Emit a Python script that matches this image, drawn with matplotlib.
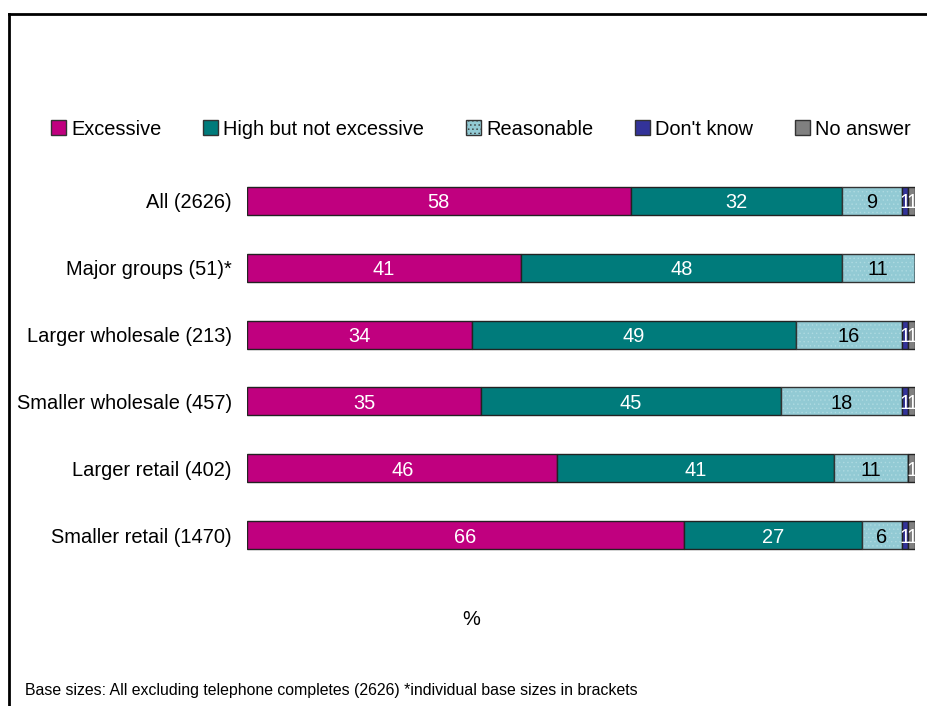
import numpy as np
import matplotlib
matplotlib.use("Agg")
import matplotlib.pyplot as plt
from matplotlib.lines import Line2D
from matplotlib.patches import Patch

plt.rcParams['font.family'] = ['Liberation Sans', 'DejaVu Sans']
plt.rcParams['hatch.linewidth'] = 0.5

# survey groups, top to bottom
groups = ["All (2626)", "Major groups (51)*", "Larger wholesale (213)",
          "Smaller wholesale (457)", "Larger retail (402)", "Smaller retail (1470)"]

excessive = [58, 41, 34, 35, 46, 66]
high_not_excessive = [32, 48, 49, 45, 41, 27]
reasonable = [9, 11, 16, 18, 11, 6]
dont_know = [1, 0, 1, 1, 0, 1]
no_answer = [1, 0, 1, 1, 1, 1]

series = ["Excessive", "High but not excessive", "Reasonable", "Don't know", "No answer"]
colors = ["#C0007F", "#007B7B", "#92CAD4", "#333399", "#808080"]
text_colors = ["white", "white", "black", "white", "white"]

fig = plt.figure(figsize=(9.27, 7.06), dpi=100)
ax = fig.add_axes([0.2665, 0.1948, 0.7206, 0.5679])

data = np.array([excessive, high_not_excessive, reasonable, dont_know, no_answer],
                dtype=float)
# 100% stacked: each row scaled to its own total
shares = data / data.sum(axis=0) * 100

y = np.arange(len(groups))
left = np.zeros(len(groups))
for name, vals, widths, col, tcol in zip(series, data, shares, colors, text_colors):
    if name == "Reasonable":
        # faint texture on the light bars
        ax.barh(y, widths, left=left, height=0.42, color=col, hatch="....",
                edgecolor="#AEDAE1", linewidth=0)
        ax.barh(y, widths, left=left, height=0.42, fill=False,
                edgecolor="#333333", linewidth=1)
    else:
        ax.barh(y, widths, left=left, height=0.42, color=col,
                edgecolor="#222222", linewidth=1)
    for yi, l, v, w in zip(y, left, vals, widths):
        if v > 0:
            ax.text(l + w / 2, yi + 0.03, f"{v:.0f}", ha="center", va="center",
                    color=tcol, fontsize=14.4)
    left += widths

ax.set_xlim(0, 100)
ax.set_ylim(len(groups) - 0.5, -0.5)
ax.set_yticks(y)
ax.set_yticklabels(groups, fontsize=14.4)
ax.tick_params(axis="y", length=0, pad=11)
ax.set_xticks([])
for s in ax.spines.values():
    s.set_visible(False)

# legend across the top
handles = [Patch(facecolor=c, edgecolor="#333333", linewidth=1,
                 hatch="...." if n == "Reasonable" else None)
           for n, c in zip(series, colors)]
fig.legend(handles, series, loc="center", bbox_to_anchor=(0.519, 0.817),
           ncol=5, frameon=False, fontsize=14.4, handlelength=0.75,
           handleheight=0.75, handletextpad=0.25, columnspacing=2.1)

fig.text(0.508, 0.122, "%", ha="center", va="center", fontsize=14.4)
fig.text(0.027, 0.022, "Base sizes: All excluding telephone completes (2626) "
         "*individual base sizes in brackets", ha="left", va="center",
         fontsize=11.4)

# outer frame lines
fig.add_artist(Line2D([0.0097, 0.0097], [0.0, 0.980], color="black", lw=2))
fig.add_artist(Line2D([0.0097, 1.0], [0.980, 0.980], color="black", lw=2))

fig.savefig("out.png", dpi=100)
